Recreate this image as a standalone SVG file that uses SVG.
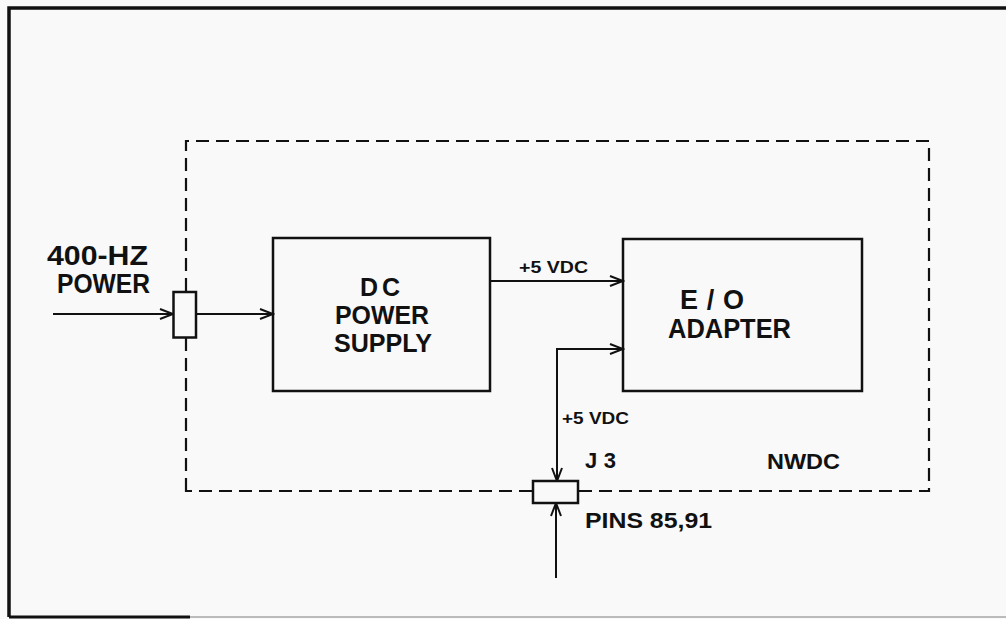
<svg xmlns="http://www.w3.org/2000/svg" width="1006" height="619" viewBox="0 0 1006 619">
<style>
.box{fill:none;stroke:#111;stroke-width:2.5}
.conn{fill:#f9f9f9;stroke:#111;stroke-width:2.5}
.line{fill:none;stroke:#111;stroke-width:2}
.dash{fill:none;stroke:#111;stroke-width:2.2;stroke-dasharray:13 7}
.t{font-family:"Liberation Sans",Arial,sans-serif;font-weight:bold;fill:#111}
.big{font-size:27px}
.box-t{font-size:25px}
.mid{font-size:22px}
.sm{font-size:17px}
</style>
<defs>
<marker id="arr" markerWidth="16" markerHeight="14" refX="14" refY="7" orient="auto" markerUnits="userSpaceOnUse">
<path d="M1,2 L14,7 L1,12" fill="none" stroke="#111" stroke-width="2"/>
</marker>
</defs>
<rect x="0" y="0" width="1006" height="619" fill="#f9f9f9"/>
<g id="frame">
<path d="M9,617 L9,8 L1006,8" fill="none" stroke="#111" stroke-width="3.5"/>
<path d="M9,617 L190,617" fill="none" stroke="#111" stroke-width="3"/>
<path d="M190,617 L1006,617" fill="none" stroke="#bbb" stroke-width="2"/>
</g>
<g id="nwdc">
<path class="dash" d="M186,491 L186,141 L929,141 L929,491 Z"/>
<text class="t mid" x="767" y="469" textLength="73" lengthAdjust="spacingAndGlyphs">NWDC</text>
</g>
<g id="connectors">
<line class="line" x1="53" y1="314" x2="173" y2="314" marker-end="url(#arr)"/>
<line class="line" x1="196" y1="314" x2="273" y2="314" marker-end="url(#arr)"/>
<line class="line" x1="490" y1="281" x2="623" y2="281" marker-end="url(#arr)"/>
<path class="line" d="M557,480 L557,349 L623,349" marker-end="url(#arr)"/>
<path class="line" d="M557,349 L557,481" marker-end="url(#arr)"/>
<line class="line" x1="556" y1="578" x2="556" y2="503" marker-end="url(#arr)"/>
<text class="t sm" x="519" y="273" textLength="69" lengthAdjust="spacingAndGlyphs">+5 VDC</text>
<text class="t sm" x="562" y="424" textLength="67" lengthAdjust="spacingAndGlyphs">+5 VDC</text>
</g>
<g id="power-in">
<rect class="conn" x="173.5" y="292" width="22.5" height="45.5"/>
<text class="t big" x="47" y="265" textLength="101" lengthAdjust="spacingAndGlyphs">400-HZ</text>
<text class="t big" x="57" y="293" textLength="93" lengthAdjust="spacingAndGlyphs">POWER</text>
</g>
<g id="dc-power-supply">
<rect class="box" x="273" y="238" width="217" height="153"/>
<text class="t box-t" x="360" y="296" textLength="40" lengthAdjust="spacing">DC</text>
<text class="t box-t" x="335" y="324" textLength="94" lengthAdjust="spacingAndGlyphs">POWER</text>
<text class="t box-t" x="334" y="352" textLength="98" lengthAdjust="spacingAndGlyphs">SUPPLY</text>
</g>
<g id="eo-adapter">
<rect class="box" x="623" y="239" width="239" height="152"/>
<text class="t big" x="680" y="309" textLength="64" lengthAdjust="spacing">E/O</text>
<text class="t big" x="668" y="338" textLength="123" lengthAdjust="spacingAndGlyphs">ADAPTER</text>
</g>
<g id="j3">
<rect class="conn" x="533" y="481" width="45" height="22"/>
<text class="t mid" x="585" y="468" textLength="31" lengthAdjust="spacing">J3</text>
<text class="t mid" x="585" y="528" textLength="127" lengthAdjust="spacingAndGlyphs">PINS 85,91</text>
</g>
</svg>
